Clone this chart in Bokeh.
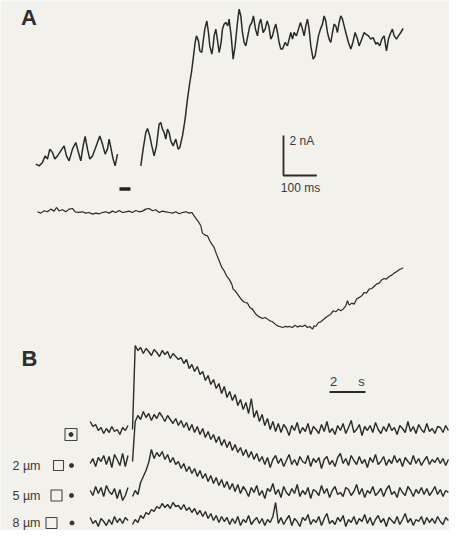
import numpy as np
from bokeh.plotting import figure
from bokeh.models import Range1d
from bokeh.embed import file_html
from bokeh.resources import INLINE
from bokeh.core.properties import value

# ---------------- data ----------------
# Panel A, upper trace: membrane current (nA) vs time (ms), two segments
a_cur_t1 = [0, 10, 20, 28, 35, 42, 50, 57, 65, 75, 85, 92, 100, 110, 120, 128, 135, 142, 148, 155,
            162, 170, 178, 185, 192, 200, 208, 215, 220, 226, 232, 238, 245]
a_cur_i1 = [0.67, 0.58, 0.75, 1.08, 0.92, 1.42, 1.25, 0.92, 1.08, 1.33, 1.58, 1.08, 0.83, 1.42, 1.75,
            1.25, 0.83, 1.58, 2.05, 1.42, 0.92, 1.08, 1.42, 1.75, 2.08, 1.67, 1.17, 1.42, 1.92, 1.42,
            0.92, 0.58, 1.17]
a_cur_t2 = [315, 322, 330, 335, 342, 348, 355, 362, 370, 375,
            380, 385, 390, 395, 400, 405, 412, 420, 427, 432,
            440, 448, 455, 462, 467, 472, 478, 482, 488, 492,
            498, 503, 507, 513, 518, 522, 528, 532, 535, 540,
            546, 550, 556, 560, 565, 570, 576, 580, 586, 592,
            598, 605, 610, 615, 620, 625, 630, 636, 642, 648,
            653, 659, 665, 670, 675, 682, 688, 694, 699, 705,
            710, 715, 720, 725, 730, 735, 740, 748, 755, 760,
            765, 770, 775, 782, 788, 794, 800, 805, 810, 815,
            820, 825, 832, 838, 843, 848, 854, 860, 865, 870,
            875, 880, 885, 890, 895, 900, 905, 910, 915, 920,
            925, 930, 938, 945, 950, 958, 965, 970, 978, 985,
            990, 998, 1005, 1012, 1020, 1025, 1032, 1038, 1045, 1052,
            1058, 1065, 1070, 1075, 1082, 1088, 1095, 1102]
a_cur_i2 = [0.58, 1.42, 2.25, 2.45, 2.08, 1.58, 1.08, 1.58, 2.67, 2.75,
            2.42, 2.25, 1.92, 2.42, 2.25, 1.83, 1.58, 1.92, 1.42, 1.50,
            2.08, 2.92, 3.92, 4.75, 5.25, 5.92, 6.75, 7.08, 6.83, 6.33,
            6.25, 6.92, 7.42, 7.83, 7.25, 6.58, 6.17, 6.58, 7.08, 7.42,
            6.75, 6.25, 6.75, 7.42, 7.67, 7.75, 7.58, 7.92, 7.08, 5.92,
            6.58, 7.75, 8.42, 8.08, 7.25, 6.75, 6.58, 7.08, 7.58, 7.75,
            8.08, 7.42, 7.08, 7.67, 7.92, 7.25, 7.42, 7.83, 7.58, 6.92,
            7.08, 7.42, 7.67, 7.25, 6.75, 6.42, 6.42, 6.75, 6.58, 6.92,
            7.25, 6.92, 7.25, 7.08, 7.42, 7.75, 7.42, 7.08, 7.58, 7.92,
            7.42, 6.58, 5.92, 6.08, 6.58, 7.08, 7.42, 7.67, 8.08, 7.83,
            7.25, 6.92, 6.75, 7.25, 7.67, 7.58, 7.25, 7.75, 8.08, 7.92,
            7.58, 7.25, 6.75, 6.42, 6.67, 7.25, 6.92, 6.58, 6.92, 7.25,
            7.17, 7.08, 6.92, 7.00, 6.67, 6.75, 6.58, 6.92, 7.08, 6.33,
            6.92, 7.25, 7.42, 7.08, 6.92, 7.08, 7.25, 7.45]

# Panel A, lower trace: fluorescence (a.u.) vs time (ms)
a_fl_t = [5, 15, 25, 35, 45, 55, 62, 70, 80, 90,
          100, 110, 118, 128, 140, 150, 160, 170, 180, 190,
          200, 210, 220, 230, 240, 250, 260, 270, 280, 290,
          300, 310, 320, 330, 340, 350, 360, 370, 380, 390,
          400, 410, 420, 430, 440, 450, 460, 468, 475, 482,
          488, 495, 500, 508, 515, 522, 528, 535, 542, 550,
          558, 565, 572, 580, 588, 592, 598, 605, 612, 620,
          628, 635, 642, 650, 658, 665, 672, 680, 688, 695,
          702, 710, 718, 725, 732, 740, 748, 755, 762, 770,
          778, 785, 792, 800, 808, 815, 822, 830, 835, 840,
          848, 855, 862, 870, 878, 885, 892, 900, 908, 915,
          922, 930, 935, 940, 948, 955, 962, 970, 978, 985,
          992, 1000, 1008, 1015, 1022, 1030, 1038, 1045, 1052, 1060,
          1068, 1075, 1082, 1090, 1098, 1102]
a_fl = [0, -4, 3, 0, 8, 2, 13, 3, 6, 0,
        8, 10, 0, -2, 0, -4, -2, -7, -4, -6,
        -2, 0, -4, 2, -2, 4, -2, 0, 2, -2,
        4, 0, 2, 8, 10, 3, 6, -2, 2, 0,
        -2, -4, 0, -6, -2, 0, -4, -2, -12, -22,
        -30, -42, -64, -70, -72, -87, -97, -107, -127, -147,
        -167, -177, -192, -202, -217, -232, -237, -247, -257, -267,
        -272, -274, -287, -292, -304, -312, -316, -320, -317, -322,
        -327, -330, -337, -342, -344, -347, -344, -345, -344, -347,
        -340, -346, -342, -344, -340, -347, -344, -352, -342, -344,
        -332, -330, -324, -317, -312, -307, -297, -300, -292, -297,
        -292, -282, -267, -280, -274, -277, -262, -257, -252, -242,
        -244, -232, -230, -224, -217, -214, -204, -200, -202, -194,
        -190, -184, -180, -174, -170, -168]
a_stim_ms = [251, 284]          # stimulus bar

# Panel B: four fluorescence traces (a.u.), sampled every b_dt s
b_dt = 0.15
b_pre_t0 = -2.35
b_labels = ["", "2 \u00b5m", "5 \u00b5m", "8 \u00b5m"]
b1_pre = [8, 3, 5, -1, 2, -4, 1, -3, 3, -2, 0, -5, 2, -1, 4]
b1 = [0, 84, 79, 82, 76, 81, 78, 74, 80, 77, 73, 79, 75, 78, 71, 76, 73, 70,
      72, 66, 70, 61, 65, 58, 63, 55, 58, 49, 54, 45, 50, 41, 46, 36, 43, 32, 38, 29, 35, 24,
      30, 20, 27, 16, 31, 12, 19, 8, 15, 4, 11, 0, 8, -2, 6,
      -3, 5, 1, -6, 4, -1, 7, -4, 2, -2, 6, -5, 3, 0, -4, 5, -2, 8, -3, 1, -5, 4, -1, 6, -4,
      2, 9, -3, 0, 5, -6, 3, -1, 4, -3, 7, 0, -4, 3, -2, 6, -1, 2, -5, 4, 1, -3, 8, -2, 3,
      -4, 5, 0, -3, 6, -2, 1, -4, 3, 2, -3, 4, -1]
b2_pre = [-2, 3, -5, 4, 0, 6, -3, 5, -6, 7, 2, -4, 8, -5, 6]
b2 = [0, 40, 46, 42, 50, 44, 48, 41, 47, 43, 49, 45, 40, 46, 42,
      38, 43, 36, 41, 34, 39, 31, 37, 29, 35, 27, 33, 24, 30, 22, 27, 19, 25, 16, 22, 14, 20,
      11, 17, 9, 14, 6, 12, 4, 10, 2, 8, 0,
      5, -3, 4, -6, 2, 6, -2, 3, -5, 1, 7, -3, 2, -4, 5, 0, -2, 6, -5, 3, -1, 4, -7, 2, 5,
      -3, 1, -5, 4, 8, -2, 3, -4, 6, 1, -3, 5, -2, 2, -6, 4, -1, 7, -3, 0, 5, -4, 2, -2, 6,
      -1, 3, -5, 4, 0, -3, 6, -2, 3, -4, 1, 5, -3, 2, -1, 4, -2, 3, -4, 2]
b3_pre = [2, -3, 6, -1, 5, -4, 7, 1, -2, 4, -6, 3, -8, -3, 5]
b3 = [-4, 2, -2, 10, 16, 22, 30, 43, 34, 40, 36, 41, 33, 38, 30, 35, 28, 31, 24, 29, 21, 26,
      19, 24, 16, 22, 14, 19, 11, 17, 9, 15, 7, 13, 5, 11, 3, 9, 1, 8, -1, 6, 2,
      -4, 5, 0, 7, -3, 2, -6, 4, 1, 9, -2, 3, -5, 6, 0, -3, 4, -1, 8, -4, 2, -2, 5, -6, 3,
      1, -3, 7, -1, 4, -5, 2, 6, -2, 0, -4, 5, 3, -3, 1, 8, -2, 4, -5, 2, -1, 6, -3, 0, 4,
      -4, 3, 7, -2, 1, -5, 5, 0, -3, 6, 2, -4, 3, -1, 5, -2, 4, -3, 1, 6, -2, 3, -4, 2, 0]
b4_pre = [4, -2, 1, -5, 3, 0, -4, 2, -3, 5, -1, 3, -2, 4, 1]
b4 = [-3, 2, -1, 6, 3, 9, 7, 12, 10, 15, 13, 18, 14, 17, 13, 19, 15, 16, 12, 17, 11, 14, 9,
      13, 7, 11, 5, 10, 3, 8, 1, 6, -1, 5, 0, 4, -3, 3, -2, 5, -4, 2, -1, 6, -3, 1, 4, -2,
      3, -4, 2, -1, 5, 19, -2, 4, -3, 2, 6, -4, 3, 0, -5, 4, 1, 7, -3, 2, -1, 5, -4, 3, 8,
      -2, 1, -3, 4, 0, 6, -5, 2, -1, 5, -3, 3, 0, 7, -2, 4, -4, 2, 6, -1, 3, -5, 4, 1, -2,
      5, -3, 2, 8, -1, 3, -4, 2, 0, 5, -3, 4, -1, 3, -2, 5, 0, -3, 4, 1]

# ---------------- layout (page pixels) ----------------
W, H = 449, 530
BG = "#f2f1ec"
INK = "#2a2a2a"
TXT = "#3a3a3a"

A_X0, PX_PER_MS = 43.3, 1.0 / 3.0
A_CUR_Y0, PX_PER_NA = 185.0, 20.0
A_FL_Y0, PX_PER_FL = 219.3, 1.0 / 3.0
A_STIM_Y = 196.5
A_BAR_X, A_BAR_Y = 291.0, 183.0

B_X0, PX_PER_S = 140.0, 18.0
B_BASE = [437.0, 469.0, 500.0, 529.0]
B_BAR_X, B_BAR_Y = 337.0, 399.5

p = figure(width=W, height=H, x_range=Range1d(8, 8 + W), y_range=Range1d(8 + H, 8),
           output_backend="svg", toolbar_location=None, min_border=0,
           x_axis_type=None, y_axis_type=None,
           background_fill_color=BG, border_fill_color=BG)
p.grid.grid_line_color = None
p.outline_line_color = None

# Panel A current traces
for tt, ii in ((a_cur_t1, a_cur_i1), (a_cur_t2, a_cur_i2)):
    p.line(A_X0 + np.array(tt) * PX_PER_MS, A_CUR_Y0 - np.array(ii) * PX_PER_NA,
           line_color=INK, line_width=1.5)
# Panel A fluorescence trace
p.line(A_X0 + np.array(a_fl_t) * PX_PER_MS, A_FL_Y0 - np.array(a_fl) * PX_PER_FL,
       line_color=INK, line_width=1.2)
# stimulus bar
p.line(A_X0 + np.array(a_stim_ms) * PX_PER_MS, [A_STIM_Y, A_STIM_Y],
       line_color="#222222", line_width=3.5)
# scale bar A: 2 nA, 100 ms
p.line([A_BAR_X, A_BAR_X, A_BAR_X + 100 * PX_PER_MS],
       [A_BAR_Y - 2 * PX_PER_NA, A_BAR_Y, A_BAR_Y],
       line_color=INK, line_width=1.8)
p.text(x=[A_BAR_X + 6], y=[A_BAR_Y - 2 * PX_PER_NA + 5], text=["2 nA"],
       text_font=value("Liberation Sans"), text_font_size="12px", text_color=TXT,
       text_align="left", text_baseline="middle")
p.text(x=[A_BAR_X + 17], y=[A_BAR_Y + 12], text=["100 ms"],
       text_font=value("Liberation Sans"), text_font_size="12px", text_color=TXT,
       text_align="center", text_baseline="middle")

# Panel B traces
pres = [b1_pre, b2_pre, b3_pre, b4_pre]
mains = [b1, b2, b3, b4]
for base, pre, main in zip(B_BASE, pres, mains):
    tp = b_pre_t0 + b_dt * np.arange(len(pre))
    tm = b_dt * np.arange(len(main))
    p.line(B_X0 + tp * PX_PER_S, base - np.array(pre), line_color=INK, line_width=1.4)
    p.line(B_X0 + tm * PX_PER_S, base - np.array(main), line_color=INK, line_width=1.4)

# scale bar B: 2 s
p.line([B_BAR_X, B_BAR_X + 2 * PX_PER_S], [B_BAR_Y, B_BAR_Y], line_color=INK, line_width=1.8)
p.text(x=[B_BAR_X + 4, B_BAR_X + 32], y=[B_BAR_Y - 11, B_BAR_Y - 11], text=["2", "s"],
       text_font=value("Liberation Sans"), text_font_size="13px", text_color=TXT,
       text_align="center", text_baseline="middle")

# Panel B row labels with ROI square and spot
LBL_Y = [442.0, 473.0, 503.0, 530.5]
SQ_X = [78.5, 66.0, 64.0, 59.0]
SQ_SIZE = [12, 10, 11, 11]
DOT_X = [78.5, 79.0, 79.0, 79.5]
p.text(x=[48] * 3, y=LBL_Y[1:], text=b_labels[1:],
       text_font=value("Liberation Sans"), text_font_size="12.5px", text_color=TXT,
       text_align="right", text_baseline="middle")
p.scatter(SQ_X, LBL_Y, size=SQ_SIZE, marker="square", fill_color=None,
          line_color="#444444", line_width=1.1)
p.scatter(DOT_X, LBL_Y, size=4, marker="circle", fill_color="#333333", line_color="#333333")

# panel letters
p.text(x=[36.5, 37.0], y=[24.5, 366.0], text=["A", "B"],
       text_font=value("Liberation Sans"), text_font_size="22px", text_font_style="bold",
       text_color="#2e2e2e", text_align="center", text_baseline="middle")

html = file_html(p, INLINE)
html = html.replace("<body>", '<body style="background:%s">' % BG, 1)
open("out.html", "w").write(html)
